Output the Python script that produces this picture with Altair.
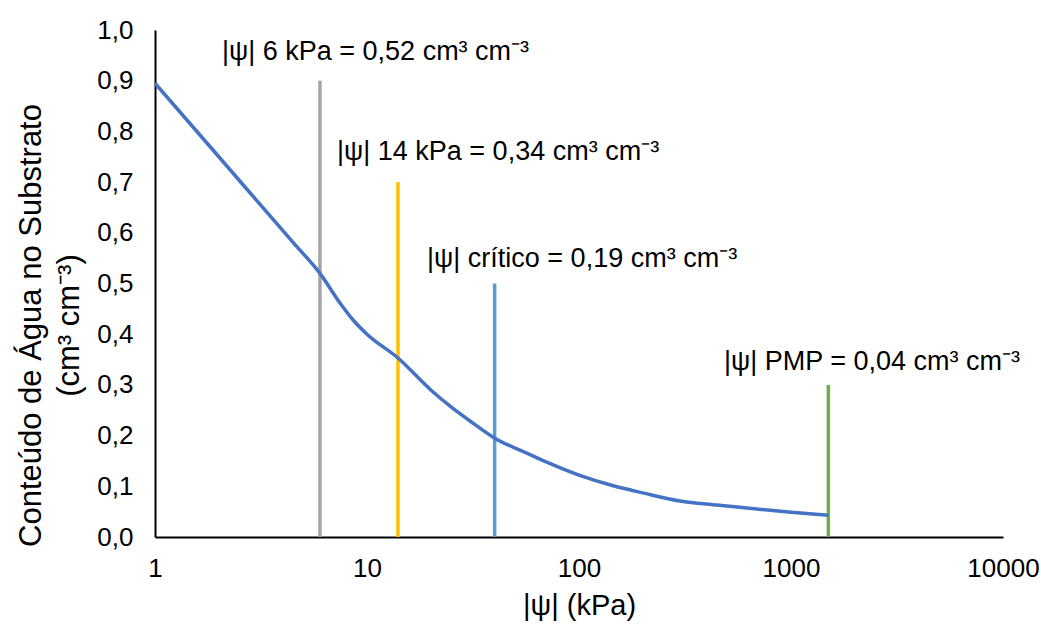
import altair as alt
import pandas as pd

# Curve (retention curve)
curve_x = [1, 2, 3, 4.5, 6, 7.5, 8.6, 10, 14, 20, 25, 32, 40, 55, 70, 100, 145, 200, 300, 450, 620, 1000, 1500]
curve_y = [0.895, 0.75, 0.665, 0.58, 0.52, 0.46, 0.428, 0.40, 0.353, 0.29, 0.256, 0.223, 0.195, 0.168,
           0.148, 0.122, 0.101, 0.087, 0.071, 0.063, 0.057, 0.049, 0.043]

# Vertical reference lines
line_x = [6, 14, 40, 1500]
line_top = [0.9, 0.7, 0.5, 0.3]
line_name = ["6", "14", "crit", "pmp"]
line_colors = ["#A5A5A5", "#FFC000", "#5B9BD5", "#70AD47"]

# Annotations
ann_text = [
    "|ψ| 6 kPa = 0,52 cm³ cm⁻³",
    "|ψ| 14 kPa = 0,34 cm³ cm⁻³",
    "|ψ| crítico = 0,19 cm³ cm⁻³",
    "|ψ| PMP = 0,04 cm³ cm⁻³",
]
ann_x = [2.07, 7.22, 19.2, 483]
ann_y = [0.941, 0.744, 0.533, 0.329]

x_ticks = [1, 10, 100, 1000, 10000]

FONT = "Liberation Sans"

curve_df = pd.DataFrame({"x": curve_x, "y": curve_y})
lines_df = pd.DataFrame({"x": line_x, "top": line_top, "name": line_name, "base": [0] * 4})
ann_df = pd.DataFrame({"x": ann_x, "y": ann_y, "t": ann_text})

xscale = alt.Scale(type="log", domain=[1, 10000])
yscale = alt.Scale(domain=[0, 1])

xaxis = alt.Axis(
    values=x_ticks, format="d", title="|ψ| (kPa)", grid=False, ticks=False,
    domainColor="black", domainWidth=2, labelFontSize=26, labelFont=FONT,
    labelColor="black", labelPadding=18, titleFontSize=29, titleFont=FONT,
    titleFontWeight="normal", titleColor="black", titlePadding=10,
    labelFlush=False,
)
yaxis = alt.Axis(
    values=[i / 10 for i in range(11)],
    labelExpr="replace(format(datum.value, '.1f'), '.', ',')",
    title=["Conteúdo de Água no Substrato", "(cm³ cm⁻³)"],
    grid=False, ticks=False, domainColor="black", domainWidth=2,
    labelFontSize=26, labelFont=FONT, labelColor="black", labelPadding=22,
    titleFontSize=31, titleFont=FONT, titleFontWeight="normal", titleColor="black",
    titleAngle=270, titleBaseline="alphabetic", titleAlign="center",
    titleX=-115, titleY=295, titleLineHeight=38,
)

curve = alt.Chart(curve_df).mark_line(
    color="#4472C4", strokeWidth=3.5, interpolate="monotone", clip=True
).encode(
    x=alt.X("x:Q", scale=xscale, axis=xaxis),
    y=alt.Y("y:Q", scale=yscale, axis=yaxis),
)

rules = alt.Chart(lines_df).mark_rule(strokeWidth=3.5).encode(
    x=alt.X("x:Q", scale=xscale),
    y=alt.Y("base:Q", scale=yscale),
    y2="top:Q",
    color=alt.Color("name:N", scale=alt.Scale(domain=line_name, range=line_colors), legend=None),
)

labels = alt.Chart(ann_df).mark_text(
    align="left", baseline="alphabetic", fontSize=27, font=FONT, color="black"
).encode(
    x=alt.X("x:Q", scale=xscale),
    y=alt.Y("y:Q", scale=yscale),
    text="t:N",
)

chart = alt.layer(rules, curve, labels).properties(
    width=848, height=507,
    autosize=alt.AutoSizeParams(type="none"),
    padding={"left": 155, "top": 30, "right": 38, "bottom": 90},
    background="white",
).configure_view(stroke=None)

chart.save("out.html", embed_options={"renderer": "svg", "actions": False})
